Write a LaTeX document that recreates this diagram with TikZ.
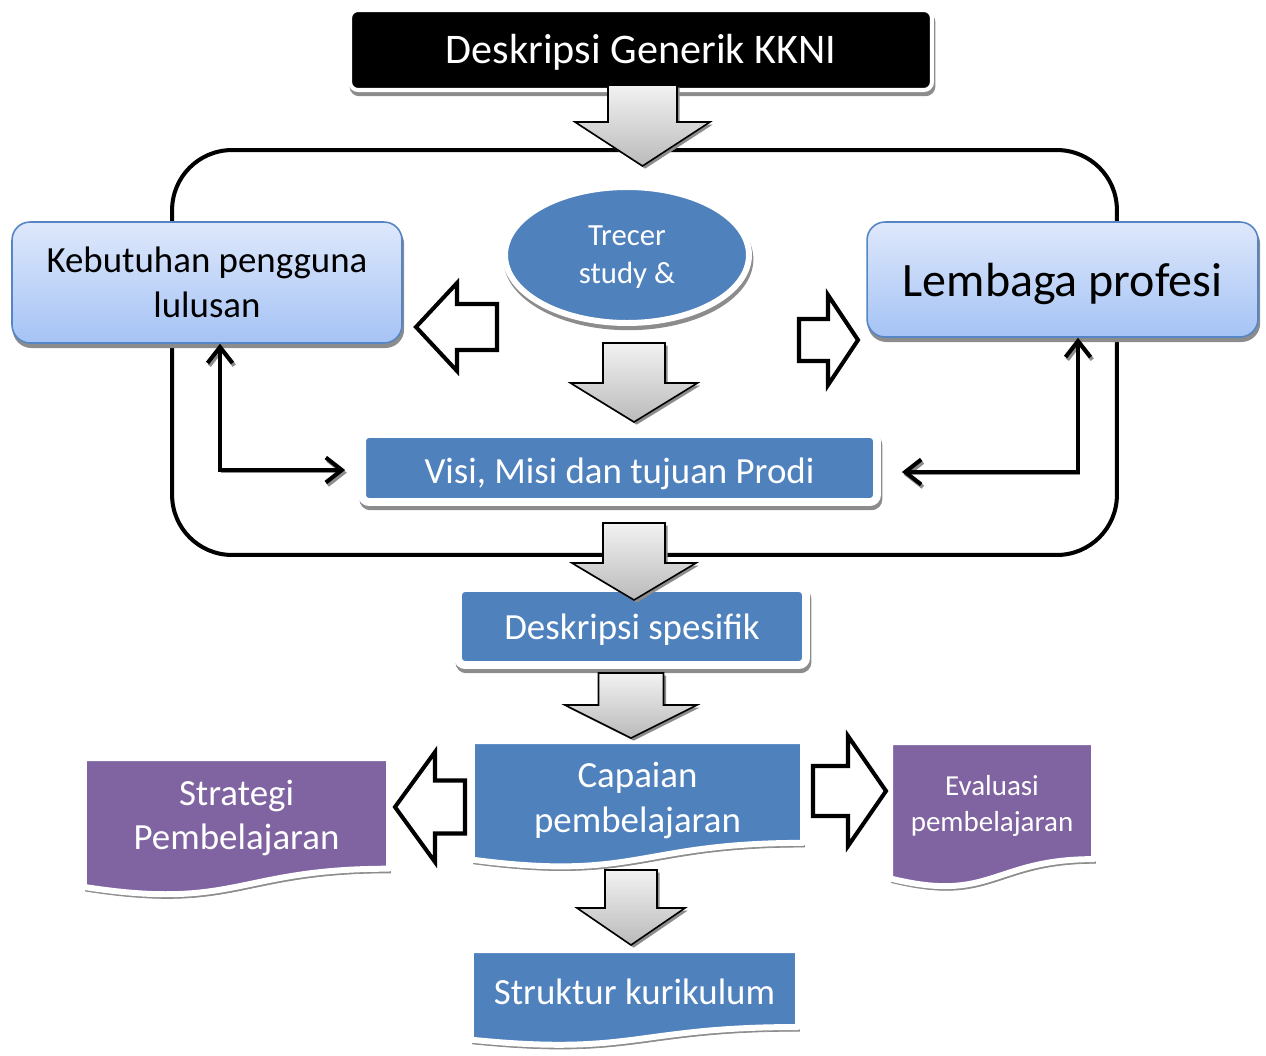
\documentclass[tikz,border=0pt]{standalone}
\usepackage{fontspec}
\setmainfont{Carlito}
\usetikzlibrary{arrows.meta, positioning, calc, shapes.geometric}
\definecolor{boxblue}{HTML}{4F81BD}
\definecolor{docpurple}{HTML}{8064A2}
\definecolor{paletop}{HTML}{DEE8FB}
\definecolor{palebottom}{HTML}{A5C3F5}
\definecolor{paleline}{HTML}{5585C5}
\definecolor{arrowtop}{HTML}{F2F2F2}
\definecolor{arrowbottom}{HTML}{BABABA}
\definecolor{shadowgrey}{HTML}{8C8C8C}

\begin{document}
\begin{tikzpicture}[
    x=0.02cm, y=-0.02cm,
    every node/.style={align=center, inner sep=0pt},
    >={Straight Barb[length=3.2mm, width=5mm, line width=2.3pt]},
    softshadow/.style={preaction={draw=shadowgrey, fill=shadowgrey, transform canvas={shift={(0.8pt,-2.4pt)}}}},
    oneline/.style={text height=#1, text depth=0pt},
    titlebox/.style={softshadow, fill=black, draw=white, line width=2.3pt, rounded corners=0.16cm, text=white, font=\fontsize{24}{28}\selectfont},
    palebox/.style={softshadow, top color=paletop, bottom color=palebottom, draw=paleline, line width=0.9pt, rounded corners=0.36cm},
    bluebox/.style={softshadow, fill=boxblue, draw=white, line width=4.5pt, rounded corners=0.14cm, text=white},
    blueoval/.style={softshadow, ellipse, fill=boxblue, draw=white, line width=3.4pt, text=white, font=\fontsize{17.5}{21.5}\selectfont},
    docwave/.style={softshadow, draw=white, line width=3.4pt, line join=round},
    greyblock/.style={preaction={fill=shadowgrey, transform canvas={shift={(1.5pt,-1.5pt)}}}, top color=arrowtop, bottom color=arrowbottom, draw=black, line width=0.9pt, line join=miter},
    openblock/.style={fill=white, draw=black, line width=2.3pt, line join=miter},
    loopframe/.style={draw=black, line width=2.3pt, rounded corners=1.2cm},
    elbow/.style={<->, line width=2.5pt, preaction={draw=shadowgrey, transform canvas={shift={(1pt,-1.5pt)}}}},
    basetext/.style={font=\fontsize{21}{25.5}\selectfont},
]

\newcommand{\docshape}[8]{%
    \draw[docwave, fill=#6] (#2,#3) -- (#2+#4,#3) -- (#2+#4,#3+0.802*#5) .. controls (#2+0.5*#4,#3+0.802*#5) and (#2+0.5*#4,#3+1.107*#5) .. (#2,#3+0.934*#5) -- cycle;
    \node[#7] (#1) at (#2+0.5*#4,#3+0.435*#5) {#8};
}
\newcommand{\downblock}[6]{% x, tail y, head y, tip y, half shaft, half head
    \draw[greyblock] (#1-#5,#2) -- (#1+#5,#2) -- (#1+#5,#3) -- (#1+#6,#3) -- (#1,#4) -- (#1-#6,#3) -- (#1-#5,#3) -- cycle;
}
\newcommand{\sideblock}[6]{% y, tail x, head x, tip x, half shaft, half head
    \draw[openblock] (#2,#1-#5) -- (#3,#1-#5) -- (#3,#1-#6) -- (#4,#1) -- (#3,#1+#6) -- (#3,#1+#5) -- (#2,#1+#5) -- cycle;
}

\useasboundingbox (0,0) rectangle (1266,1055);

% ================= TOP =================
\node[titlebox, oneline=15.2pt, minimum width=11.64cm, minimum height=1.6cm] (kkni) at (641,50) {Deskripsi Generik KKNI};

% ================= LOOP FRAME =================
\node[loopframe, minimum width=18.9cm, minimum height=8.1cm] (loop) at (644.5,352.5) {};

\node[palebox, basetext, minimum width=7.8cm, minimum height=2.42cm] (keb) at (207,282.5) {Kebutuhan pengguna\\lulusan};
\node[palebox, oneline=19pt, font=\fontsize{27.3}{30}\selectfont, minimum width=7.82cm, minimum height=2.3cm] (lem) at (1062.5,279.5) {Lembaga profesi};
\node[blueoval, text depth=0pt, minimum width=4.88cm, minimum height=2.72cm] (tracer) at (627,255) {Trecer\\study \&};
\node[bluebox, basetext, oneline=18pt, minimum width=10.3cm, minimum height=1.36cm] (visi) at (619.5,468) {Visi, Misi dan tujuan Prodi};

\sideblock{327}{497}{457}{416}{23}{44}
\sideblock{340}{799}{828}{858}{21}{45}

\draw[elbow] ($(keb.south)+(13,0)$) |- ($(visi.west)+(-13,2)$);
\draw[elbow] ($(lem.south)+(15.5,0)$) |- ($(visi.east)+(21,4)$);

% ================= LOWER CHAIN =================
\node[bluebox, basetext, oneline=15pt, minimum width=6.96cm, minimum height=1.54cm] (spes) at (632,626.5) {Deskripsi spesifik};

\docshape{capaian}{472}{741}{331}{127}{boxblue}{basetext, text=white, yshift=-0.08cm}{Capaian\\pembelajaran}
\docshape{strategi}{84}{758}{305}{138}{docpurple}{basetext, text=white}{Strategi\\Pembelajaran}
\docshape{evaluasi}{890}{742}{204}{146}{docpurple}{font=\fontsize{16.5}{20.4}\selectfont, text=white}{Evaluasi\\pembelajaran}
\docshape{struktur}{471}{950}{327}{96}{boxblue}{basetext, text=white}{Struktur kurikulum}

\sideblock{807}{465}{435}{395}{26.5}{55}
\sideblock{791}{813}{848}{886}{25}{55}

% grey down arrows
\downblock{642.5}{85}{122}{166}{34.5}{67.5}
\downblock{634}{343}{383}{422}{31}{63.5}
\downblock{634}{523}{563}{600}{31}{62}
\downblock{631}{673}{705}{738}{32.5}{66}
\downblock{631}{870}{908}{945}{26}{54}

\end{tikzpicture}
\end{document}
